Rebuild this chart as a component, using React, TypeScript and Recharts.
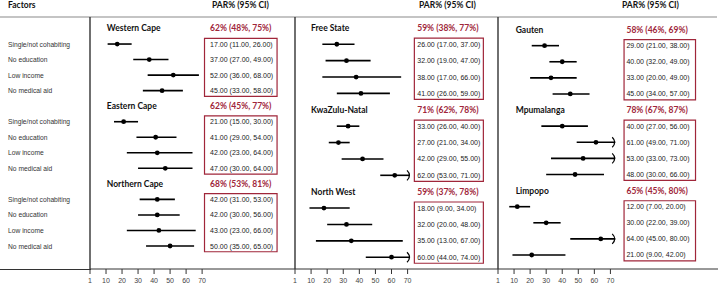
import React from 'react'
import {
  ScatterChart,
  Scatter,
  XAxis,
  YAxis,
  ErrorBar,
  ReferenceArea,
  ReferenceLine,
} from 'recharts'

const FACTORS = ['Single/not cohabiting', 'No education', 'Low income', 'No medical aid']

const PROVINCES = [
  'Western Cape', 'Eastern Cape', 'Northern Cape',
  'Free State', 'KwaZulu-Natal', 'North West',
  'Gauten', 'Mpumalanga', 'Limpopo',
]

// combined PAR% (95% CI) per province
const PROVINCE_PAR = [62, 62, 68, 59, 71, 59, 58, 78, 65]
const PROVINCE_LOW = [48, 45, 53, 38, 62, 37, 46, 67, 45]
const PROVINCE_HIGH = [75, 77, 81, 77, 78, 78, 69, 87, 80]

// PAR% per factor, rows follow FACTORS
const FACTOR_PAR = [
  [17, 37, 52, 45],
  [21, 41, 42, 47],
  [42, 42, 43, 50],
  [26, 32, 38, 41],
  [33, 27, 42, 62],
  [18, 32, 35, 60],
  [29, 40, 33, 45],
  [40, 61, 53, 48],
  [12, 30, 64, 21],
]
const FACTOR_LOW = [
  [11, 27, 36, 33],
  [15, 29, 23, 30],
  [31, 30, 23, 35],
  [17, 19, 17, 26],
  [26, 21, 29, 53],
  [9, 20, 13, 44],
  [21, 32, 20, 34],
  [27, 49, 33, 30],
  [7, 22, 45, 9],
]
const FACTOR_HIGH = [
  [26, 49, 68, 58],
  [30, 54, 64, 64],
  [53, 56, 66, 65],
  [37, 47, 66, 59],
  [40, 34, 55, 71],
  [34, 48, 67, 74],
  [38, 49, 49, 57],
  [56, 71, 73, 66],
  [20, 39, 80, 42],
]

const X_TICKS = [0, 10, 20, 30, 40, 50, 60, 70]
const X_TICK_LABELS = ['1', '10', '20', '30', '40', '50', '60', '70']
const AXIS_MAX = 70

const SANS = '"Liberation Sans", Arial, sans-serif'
const BOLD = 'Lato, "Open Sans", sans-serif'
const RED = '#a0263a'
const INK = '#222'

// layout of the three panels (px / axis units)
const PANELS = [
  { left: 0, width: 296, padLeft: 0, padRight: 1, yWidth: 90, xMax: 128, yDomain: [-0.74, 15.48], titleX: 10.5, textX: 75, box: [71.5, 116.8], cap: 71.5 },
  { left: 285, width: 213, padLeft: 10, padRight: 0, yWidth: 0, xMax: 126.2, yDomain: [-0.665, 14.72], titleX: 10, textX: 76, box: [74.2, 117.1], cap: 71.5 },
  { left: 488, width: 230, padLeft: 10, padRight: 0, yWidth: 0, xMax: 137, yDomain: [-0.78, 14.87], titleX: 11, textX: 80, box: [78.5, 123], cap: 73 },
]

const FACTOR_ROWS = [1, 2, 3, 4, 6, 7, 8, 9, 11, 12, 13, 14]

const fmt = (v: number) => v.toFixed(2)

const FactorTick = (props: any) => (
  <text x={props.x} y={props.y} textAnchor="start" dominantBaseline="central" fontSize={6.7} fontFamily={SANS} fill="#333">
    {FACTORS[(props.payload.value - 1) % 5]}
  </text>
)

const CiText = (props: any) => (
  <text x={props.cx} y={props.cy} dominantBaseline="central" fontSize={7} fontFamily={SANS} fill={INK}>
    {props.payload.text}
  </text>
)

const TitleText = (props: any) => (
  <text x={props.cx} y={props.cy} dominantBaseline="central" fontSize={8.5} fontWeight={700} fontFamily={BOLD} fill={props.payload.color}>
    {props.payload.text}
  </text>
)

const Dot = (props: any) => <circle cx={props.cx} cy={props.cy} r={2.4} fill="#000" />

const Arrow = (props: any) => (
  <path
    d={`M${props.cx - 3},${props.cy - 5} Q${props.cx + 2},${props.cy} ${props.cx - 3},${props.cy + 5}`}
    fill="none"
    stroke="#000"
    strokeWidth={1.2}
  />
)

function Panel({ index }: { index: number }) {
  const p = PANELS[index]
  const provs = [0, 1, 2].map((g) => index * 3 + g)

  const rows = provs.flatMap((prov, g) =>
    FACTORS.map((_, r) => {
      const est = FACTOR_PAR[prov][r]
      const lo = FACTOR_LOW[prov][r]
      const hi = FACTOR_HIGH[prov][r]
      const end = hi > AXIS_MAX ? p.cap : hi
      return { x: est, y: g * 5 + 1 + r, err: [est - lo, end - est], over: hi > AXIS_MAX, lo, hi }
    })
  )
  const ciLabels = rows.map((d) => ({ x: p.textX, y: d.y, text: `${fmt(d.x)} (${fmt(d.lo)}, ${fmt(d.hi)})` }))
  const arrows = rows.filter((d) => d.over).map((d) => ({ x: p.cap, y: d.y }))
  const titles = provs.flatMap((prov, g) => [
    { x: p.titleX, y: g * 5, text: PROVINCES[prov], color: '#111' },
    { x: p.textX, y: g * 5, text: `${PROVINCE_PAR[prov]}% (${PROVINCE_LOW[prov]}%, ${PROVINCE_HIGH[prov]}%)`, color: RED },
  ])

  return (
    <div style={{ position: 'absolute', left: p.left, top: 0 }}>
      <ScatterChart width={p.width} height={285} margin={{ top: 17, right: p.padRight, bottom: 0, left: p.padLeft }}>
        <XAxis
          type="number"
          dataKey="x"
          domain={[0, p.xMax]}
          allowDataOverflow
          ticks={X_TICKS}
          interval={0}
          tickFormatter={(v: number) => X_TICK_LABELS[X_TICKS.indexOf(v)]}
          height={16}
          tickSize={5}
          tickMargin={4}
          stroke="#333"
          tick={{ fontSize: 7, fill: '#444', fontFamily: SANS }}
        />
        <YAxis
          type="number"
          dataKey="y"
          domain={p.yDomain}
          reversed
          allowDataOverflow
          hide={index > 0}
          width={p.yWidth}
          ticks={FACTOR_ROWS}
          interval={0}
          tickLine={false}
          axisLine={false}
          tickSize={0}
          tickMargin={82}
          tick={FactorTick}
        />
        <ReferenceLine x={0} stroke="#333" strokeWidth={1.4} />
        {[0, 1, 2].map((g) => (
          <ReferenceArea
            key={g}
            x1={p.box[0]}
            x2={p.box[1]}
            y1={g * 5 + 1 - 0.37}
            y2={g * 5 + 4 + 0.37}
            fill="none"
            stroke={RED}
            strokeWidth={1.2}
            ifOverflow="visible"
          />
        ))}
        <Scatter data={rows} shape={Dot} isAnimationActive={false}>
          <ErrorBar dataKey="err" direction="x" width={0} stroke="#000" strokeWidth={1.6} isAnimationActive={false} />
        </Scatter>
        <Scatter data={arrows} shape={Arrow} isAnimationActive={false} />
        <Scatter data={ciLabels} shape={CiText} isAnimationActive={false} />
        <Scatter data={titles} shape={TitleText} isAnimationActive={false} />
      </ScatterChart>
    </div>
  )
}

const headStyle: React.CSSProperties = {
  position: 'absolute',
  top: 0,
  fontFamily: BOLD,
  fontWeight: 700,
  fontSize: 8.5,
  lineHeight: '10px',
  color: '#111',
  whiteSpace: 'nowrap',
}

export default function App() {
  return (
    <div style={{ position: 'absolute', left: 0, top: 0, width: 728, height: 285, background: '#fff', overflow: 'hidden' }}>
      <div style={{ ...headStyle, left: 8 }}>Factors</div>
      <div style={{ ...headStyle, left: 212 }}>PAR% (95% CI)</div>
      <div style={{ ...headStyle, left: 419 }}>PAR% (95% CI)</div>
      <div style={{ ...headStyle, left: 622 }}>PAR% (95% CI)</div>
      <div style={{ position: 'absolute', left: 0, top: 16, width: 717, height: 1.5, background: '#c4c4c4' }} />
      <div style={{ position: 'absolute', left: 0, top: 268.5, width: 91, height: 1, background: '#333' }} />
      <Panel index={0} />
      <Panel index={1} />
      <Panel index={2} />
    </div>
  )
}
